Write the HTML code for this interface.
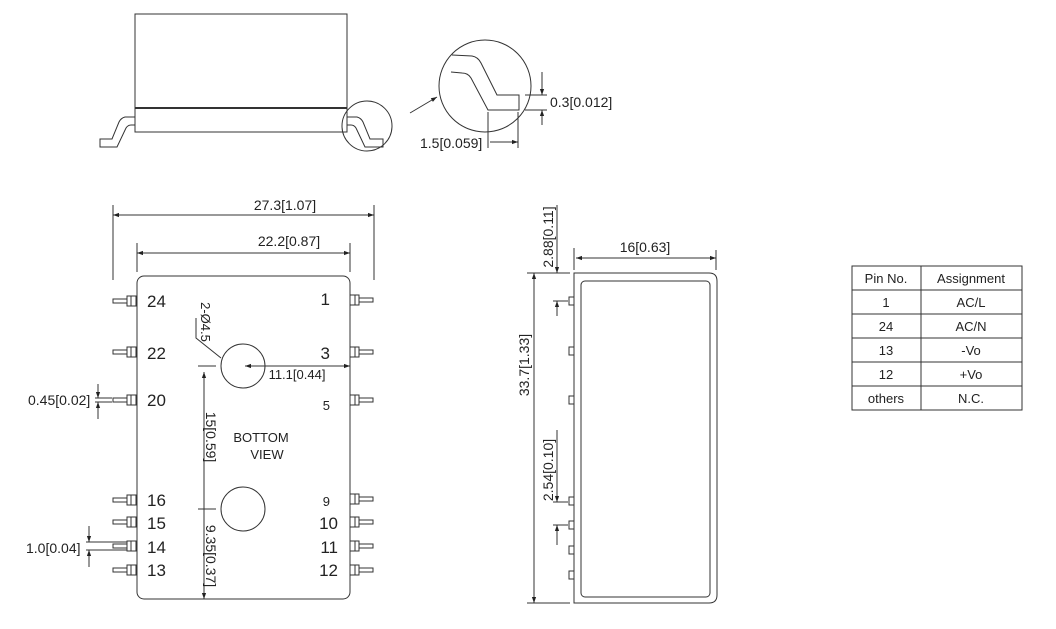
<!DOCTYPE html>
<html><head><meta charset="utf-8"><style>
html,body{margin:0;padding:0;background:#fff;}
svg{display:block;}
text{font-family:"Liberation Sans",sans-serif;fill:#222;}
</style></head><body>
<svg width="1056" height="629" viewBox="0 0 1056 629" xmlns="http://www.w3.org/2000/svg">
<defs>
<marker id="a" viewBox="0 0 10 10" refX="10" refY="5" markerWidth="8" markerHeight="6" orient="auto-start-reverse" markerUnits="userSpaceOnUse"><path d="M0,1.5 L10,5 L0,8.5 z" fill="#222"/></marker>
<g id="pl"><rect x="113" y="-2" width="14" height="4" fill="#fff" stroke="#333" stroke-width="1"/><rect x="127" y="-5" width="9" height="10" fill="#fff" stroke="#333" stroke-width="1"/><line x1="131" y1="-5" x2="131" y2="5" stroke="#333"/></g>
<g id="pr"><rect x="359" y="-2" width="14" height="4" fill="#fff" stroke="#333" stroke-width="1"/><rect x="350" y="-5" width="9" height="10" fill="#fff" stroke="#333" stroke-width="1"/><line x1="355" y1="-5" x2="355" y2="5" stroke="#333"/></g>
<g id="ps"><rect x="569" y="-4" width="5" height="8" fill="#fff" stroke="#333"/></g>
</defs>
<g fill="none" stroke="#333" stroke-width="1">
<!-- top side view -->
<rect x="135" y="14" width="212" height="118"/>
<line x1="135" y1="108" x2="347" y2="108" stroke-width="2"/>
<path d="M135,117 L125,117 Q121,118 119,122 L112,139 L100,139 L100,147 L117,147 L126,128 Q128,125 131,125 L135,125"/>
<path d="M347,117 L357,117 Q361,118 363,122 L370,139 L383,139 L383,147 L365,147 L356,128 Q354,125 351,125 L347,125"/>
<circle cx="367" cy="126" r="25"/>
<!-- detail -->
<circle cx="485" cy="86" r="46"/>
<path d="M452,55 L472,56 Q478,57 481,63 L497,95 L519,95 L519,110 L488,110 L471,78 Q468,73 462,73 L451,72"/>
<line x1="410" y1="113" x2="437" y2="97" marker-end="url(#a)"/>
<line x1="525" y1="95" x2="547" y2="95"/><line x1="525" y1="110" x2="547" y2="110"/>
<line x1="542" y1="72" x2="542" y2="95" marker-end="url(#a)"/><line x1="542" y1="125" x2="542" y2="110" marker-end="url(#a)"/>
<line x1="488" y1="112" x2="488" y2="148"/><line x1="518" y1="112" x2="518" y2="148"/>
<line x1="490" y1="142" x2="518" y2="142" marker-end="url(#a)"/>
<!-- bottom view -->
<rect x="137" y="276" width="213" height="323" rx="7"/>
<line x1="113" y1="205" x2="113" y2="280"/><line x1="374" y1="205" x2="374" y2="280"/>
<line x1="113" y1="215" x2="374" y2="215" marker-start="url(#a)" marker-end="url(#a)"/>
<line x1="137" y1="243" x2="137" y2="272"/><line x1="350" y1="243" x2="350" y2="272"/>
<line x1="137" y1="253" x2="350" y2="253" marker-start="url(#a)" marker-end="url(#a)"/>
<circle cx="243" cy="366" r="22"/><circle cx="243" cy="509" r="22"/>
<line x1="245" y1="366" x2="350" y2="366" marker-start="url(#a)" marker-end="url(#a)"/>
<line x1="198" y1="366" x2="216" y2="366"/><line x1="198" y1="509" x2="216" y2="509"/>
<line x1="204" y1="372" x2="204" y2="509" marker-start="url(#a)"/>
<line x1="204" y1="509" x2="204" y2="599" marker-end="url(#a)"/>
<path d="M196,318 L196,338 L221,358"/>
<line x1="98" y1="384" x2="98" y2="398" marker-end="url(#a)"/><line x1="98" y1="419" x2="98" y2="402" marker-end="url(#a)"/>
<line x1="95" y1="398" x2="112" y2="398"/><line x1="95" y1="402" x2="112" y2="402"/>
<line x1="89" y1="526" x2="89" y2="542" marker-end="url(#a)"/><line x1="89" y1="567" x2="89" y2="550" marker-end="url(#a)"/>
<line x1="86" y1="542" x2="128" y2="542"/><line x1="86" y1="550" x2="128" y2="550"/>
<!-- side view -->
<path d="M574,273 L709,273 Q717,273 717,281 L717,595 Q717,603 709,603 L574,603 Z"/>
<rect x="581" y="281" width="129" height="316" rx="4"/>
<line x1="574" y1="248" x2="574" y2="270"/><line x1="716" y1="250" x2="716" y2="270"/>
<line x1="576" y1="258" x2="716" y2="258" marker-start="url(#a)" marker-end="url(#a)"/>
<line x1="527" y1="273" x2="570" y2="273"/><line x1="527" y1="603" x2="570" y2="603"/>
<line x1="534" y1="273" x2="534" y2="603" marker-start="url(#a)" marker-end="url(#a)"/>
<line x1="557" y1="205" x2="557" y2="273" marker-end="url(#a)"/>
<line x1="553" y1="301" x2="568" y2="301"/><line x1="557" y1="316" x2="557" y2="301" marker-end="url(#a)"/>
<line x1="557" y1="430" x2="557" y2="502" marker-end="url(#a)"/>
<line x1="553" y1="502" x2="568" y2="502"/><line x1="553" y1="525" x2="568" y2="525"/>
<line x1="557" y1="545" x2="557" y2="525" marker-end="url(#a)"/>
<!-- table -->
<rect x="852" y="266" width="170" height="144"/>
<line x1="921" y1="266" x2="921" y2="410"/>
<line x1="852" y1="290" x2="1022" y2="290"/><line x1="852" y1="314" x2="1022" y2="314"/>
<line x1="852" y1="338" x2="1022" y2="338"/><line x1="852" y1="362" x2="1022" y2="362"/>
<line x1="852" y1="386" x2="1022" y2="386"/>
</g>
<!-- pins -->
<use href="#pl" y="301"/><use href="#pl" y="352"/><use href="#pl" y="400"/><use href="#pl" y="500"/><use href="#pl" y="522"/><use href="#pl" y="546"/><use href="#pl" y="570"/>
<use href="#pr" y="300"/><use href="#pr" y="352"/><use href="#pr" y="400"/><use href="#pr" y="499"/><use href="#pr" y="522"/><use href="#pr" y="546"/><use href="#pr" y="570"/>
<use href="#ps" y="301"/><use href="#ps" y="351"/><use href="#ps" y="400"/><use href="#ps" y="501"/><use href="#ps" y="525"/><use href="#ps" y="550"/><use href="#ps" y="575"/>
<!-- text -->
<g font-size="14">
<text x="550" y="107">0.3[0.012]</text>
<text x="420" y="148">1.5[0.059]</text>
<text x="285" y="210" text-anchor="middle">27.3[1.07]</text>
<text x="289" y="246" text-anchor="middle">22.2[0.87]</text>
<text x="297" y="379" text-anchor="middle" font-size="13">11.1[0.44]</text>
<text x="28" y="405">0.45[0.02]</text>
<text x="26" y="553">1.0[0.04]</text>
<text x="645" y="252" text-anchor="middle">16[0.63]</text>
<text transform="translate(529,365) rotate(-90)" text-anchor="middle">33.7[1.33]</text>
<text transform="translate(553,237) rotate(-90)" text-anchor="middle">2.88[0.11]</text>
<text transform="translate(553,470) rotate(-90)" text-anchor="middle">2.54[0.10]</text>
<text transform="translate(206,437) rotate(90)" text-anchor="middle">15[0.59]</text>
<text transform="translate(206,556) rotate(90)" text-anchor="middle">9.35[0.37]</text>
<text transform="translate(201,322) rotate(90)" text-anchor="middle" font-size="13">2-Ø4.5</text>
<text x="261" y="442" text-anchor="middle" font-size="13">BOTTOM</text>
<text x="267" y="459" text-anchor="middle" font-size="13">VIEW</text>
</g>
<g font-size="17">
<text x="147" y="307">24</text><text x="147" y="359">22</text><text x="147" y="406">20</text>
<text x="147" y="506">16</text><text x="147" y="529">15</text><text x="147" y="553">14</text><text x="147" y="576">13</text>
<text x="330" y="305" text-anchor="end">1</text><text x="330" y="359" text-anchor="end">3</text>
<text x="330" y="410" text-anchor="end" font-size="13">5</text><text x="330" y="506" text-anchor="end" font-size="13">9</text>
<text x="338" y="529" text-anchor="end">10</text><text x="338" y="553" text-anchor="end">11</text><text x="338" y="576" text-anchor="end">12</text>
</g>
<g font-size="13" text-anchor="middle">
<text x="886" y="283">Pin No.</text><text x="971" y="283">Assignment</text>
<text x="886" y="307">1</text><text x="971" y="307">AC/L</text>
<text x="886" y="331">24</text><text x="971" y="331">AC/N</text>
<text x="886" y="355">13</text><text x="971" y="355">-Vo</text>
<text x="886" y="379">12</text><text x="971" y="379">+Vo</text>
<text x="886" y="403">others</text><text x="971" y="403">N.C.</text>
</g>
</svg>
</body></html>
